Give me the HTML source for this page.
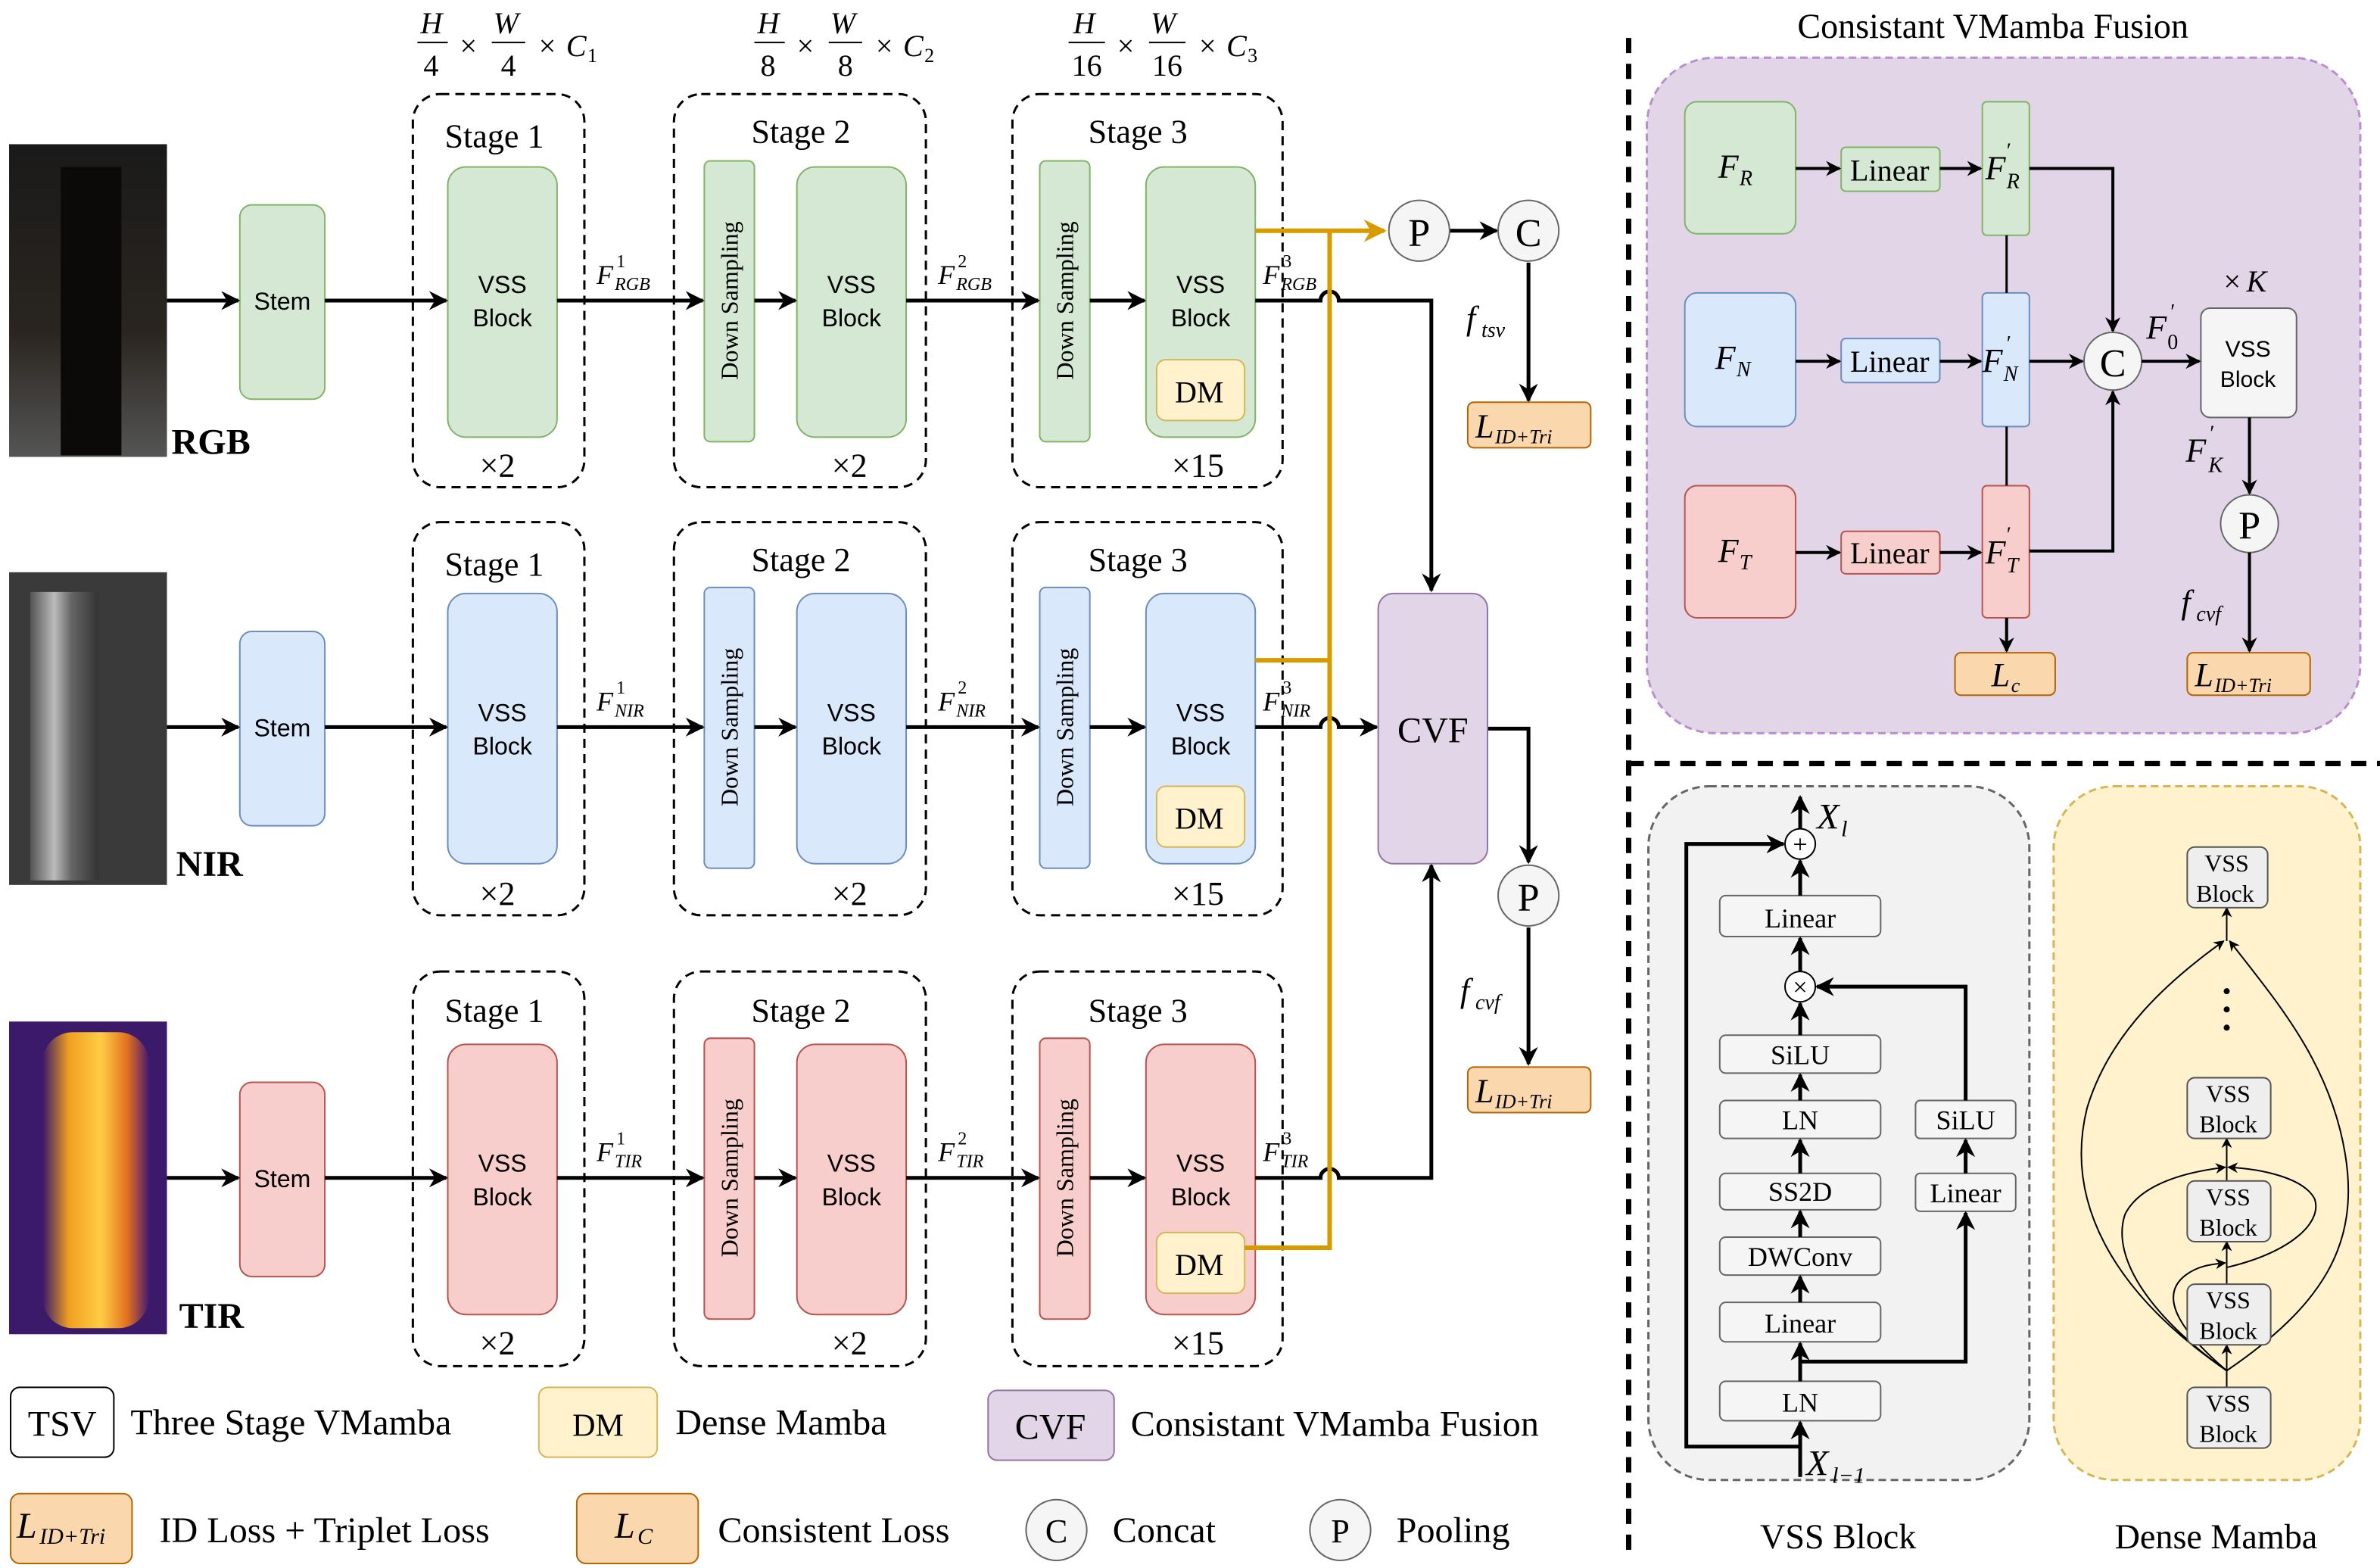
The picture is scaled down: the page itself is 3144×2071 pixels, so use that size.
<!DOCTYPE html>
<html><head><meta charset="utf-8"><style>
html,body{margin:0;padding:0;background:#fff;}
svg{display:block;}
svg text{font-family:"Liberation Serif","Times New Roman",serif;fill:#000;}
svg text.s{font-family:"Liberation Sans",Arial,sans-serif;}
.i{font-style:italic;}
</style></head><body>
<svg width="3144" height="2071" viewBox="0 0 1568 1033" preserveAspectRatio="none" xmlns="http://www.w3.org/2000/svg" font-family="Liberation Serif, serif">
<defs>
<marker id="a" viewBox="0 0 10 10" refX="9" refY="5" markerWidth="5" markerHeight="5" orient="auto"><path d="M0,0 L10,5 L0,10 L3,5z" fill="#000"/></marker>
<marker id="ao" viewBox="0 0 10 10" refX="9" refY="5" markerWidth="5" markerHeight="5" orient="auto"><path d="M0,0 L10,5 L0,10 L3,5z" fill="#d79b00"/></marker>
<marker id="as" viewBox="0 0 10 10" refX="9" refY="5" markerWidth="7" markerHeight="7" orient="auto"><path d="M0,0 L10,5 L0,10 L3,5z" fill="#000"/></marker>
<linearGradient id="rgbp" x1="0" y1="0" x2="0" y2="1"><stop offset="0" stop-color="#1a1a1a"/><stop offset="0.6" stop-color="#2a2520"/><stop offset="1" stop-color="#555"/></linearGradient>
<linearGradient id="nirp" x1="0" y1="0" x2="1" y2="0"><stop offset="0" stop-color="#555"/><stop offset="0.35" stop-color="#bbb"/><stop offset="0.6" stop-color="#666"/><stop offset="1" stop-color="#333"/></linearGradient>
<linearGradient id="tirp" x1="0" y1="0" x2="1" y2="0"><stop offset="0" stop-color="#3a1a6a"/><stop offset="0.25" stop-color="#f0a020"/><stop offset="0.55" stop-color="#ffcc44"/><stop offset="0.8" stop-color="#e07020"/><stop offset="1" stop-color="#4a1a70"/></linearGradient>
</defs>

<!-- photos -->
<rect x="6" y="95" width="104" height="206" fill="url(#rgbp)"/>
<rect x="40" y="110" width="40" height="190" fill="#0c0a08"/>
<rect x="6" y="377" width="104" height="206" fill="#3a3a3a"/>
<rect x="20" y="390" width="45" height="190" fill="url(#nirp)"/>
<rect x="6" y="673" width="104" height="206" fill="#3c1a6a"/>
<rect x="28" y="680" width="70" height="195" rx="20" fill="url(#tirp)"/>
<text x="113" y="299" font-size="24" font-weight="bold">RGB</text>
<text x="116" y="577" font-size="24" font-weight="bold">NIR</text>
<text x="118" y="875" font-size="24" font-weight="bold">TIR</text>

<!-- fraction headers -->
<g font-size="20">
<g transform="translate(275,0)"><text x="2" y="22" class="i">H</text><line x1="0" y1="28" x2="20" y2="28" stroke="#000"/><text x="4" y="50">4</text><text x="28" y="37">×</text><text x="50" y="22" class="i">W</text><line x1="49" y1="28" x2="71" y2="28" stroke="#000"/><text x="55" y="50">4</text><text x="80" y="37">×</text><text x="98" y="37" class="i">C</text><text x="112" y="41" font-size="13">1</text></g>
<g transform="translate(497,0)"><text x="2" y="22" class="i">H</text><line x1="0" y1="28" x2="20" y2="28" stroke="#000"/><text x="4" y="50">8</text><text x="28" y="37">×</text><text x="50" y="22" class="i">W</text><line x1="49" y1="28" x2="71" y2="28" stroke="#000"/><text x="55" y="50">8</text><text x="80" y="37">×</text><text x="98" y="37" class="i">C</text><text x="112" y="41" font-size="13">2</text></g>
<g transform="translate(704,0)"><text x="3" y="22" class="i">H</text><line x1="0" y1="28" x2="24" y2="28" stroke="#000"/><text x="2" y="50">16</text><text x="32" y="37">×</text><text x="54" y="22" class="i">W</text><line x1="53" y1="28" x2="77" y2="28" stroke="#000"/><text x="55" y="50">16</text><text x="86" y="37">×</text><text x="104" y="37" class="i">C</text><text x="118" y="41" font-size="13">3</text></g>
</g>

<g font-size="22">
<!-- RGB row -->
<g>
<rect x="158" y="135" width="56" height="128" rx="8" fill="#d5e8d4" stroke="#82b366"/>
<rect x="272" y="62" width="113" height="259" rx="18" fill="none" stroke="#000" stroke-width="1.5" stroke-dasharray="6,4"/>
<rect x="444" y="62" width="166" height="259" rx="18" fill="none" stroke="#000" stroke-width="1.5" stroke-dasharray="6,4"/>
<rect x="667" y="62" width="178" height="259" rx="18" fill="none" stroke="#000" stroke-width="1.5" stroke-dasharray="6,4"/>
<rect x="295" y="110" width="72" height="178" rx="12" fill="#d5e8d4" stroke="#82b366"/>
<rect x="464" y="106" width="33" height="185" rx="4" fill="#d5e8d4" stroke="#82b366"/>
<rect x="525" y="110" width="72" height="178" rx="12" fill="#d5e8d4" stroke="#82b366"/>
<rect x="685" y="106" width="33" height="185" rx="4" fill="#d5e8d4" stroke="#82b366"/>
<rect x="755" y="110" width="72" height="178" rx="12" fill="#d5e8d4" stroke="#82b366"/>
<rect x="762" y="237" width="58" height="40" rx="6" fill="#fff2cc" stroke="#d6b656"/>
<text x="293" y="97">Stage 1</text><text x="495" y="94">Stage 2</text><text x="717" y="94">Stage 3</text>
<text x="316" y="314">×2</text><text x="548" y="314">×2</text><text x="772" y="314">×15</text>
<text x="774" y="265" font-size="20">DM</text>
</g>
<!-- NIR row -->
<g>
<rect x="158" y="416" width="56" height="128" rx="8" fill="#dae8fc" stroke="#6c8ebf"/>
<rect x="272" y="344" width="113" height="259" rx="18" fill="none" stroke="#000" stroke-width="1.5" stroke-dasharray="6,4"/>
<rect x="444" y="344" width="166" height="259" rx="18" fill="none" stroke="#000" stroke-width="1.5" stroke-dasharray="6,4"/>
<rect x="667" y="344" width="178" height="259" rx="18" fill="none" stroke="#000" stroke-width="1.5" stroke-dasharray="6,4"/>
<rect x="295" y="391" width="72" height="178" rx="12" fill="#dae8fc" stroke="#6c8ebf"/>
<rect x="464" y="387" width="33" height="185" rx="4" fill="#dae8fc" stroke="#6c8ebf"/>
<rect x="525" y="391" width="72" height="178" rx="12" fill="#dae8fc" stroke="#6c8ebf"/>
<rect x="685" y="387" width="33" height="185" rx="4" fill="#dae8fc" stroke="#6c8ebf"/>
<rect x="755" y="391" width="72" height="178" rx="12" fill="#dae8fc" stroke="#6c8ebf"/>
<rect x="762" y="518" width="58" height="40" rx="6" fill="#fff2cc" stroke="#d6b656"/>
<text x="293" y="379">Stage 1</text><text x="495" y="376">Stage 2</text><text x="717" y="376">Stage 3</text>
<text x="316" y="596">×2</text><text x="548" y="596">×2</text><text x="772" y="596">×15</text>
<text x="774" y="546" font-size="20">DM</text>
</g>
<!-- TIR row -->
<g>
<rect x="158" y="713" width="56" height="128" rx="8" fill="#f8cecc" stroke="#b85450"/>
<rect x="272" y="640" width="113" height="260" rx="18" fill="none" stroke="#000" stroke-width="1.5" stroke-dasharray="6,4"/>
<rect x="444" y="640" width="166" height="260" rx="18" fill="none" stroke="#000" stroke-width="1.5" stroke-dasharray="6,4"/>
<rect x="667" y="640" width="178" height="260" rx="18" fill="none" stroke="#000" stroke-width="1.5" stroke-dasharray="6,4"/>
<rect x="295" y="688" width="72" height="178" rx="12" fill="#f8cecc" stroke="#b85450"/>
<rect x="464" y="684" width="33" height="185" rx="4" fill="#f8cecc" stroke="#b85450"/>
<rect x="525" y="688" width="72" height="178" rx="12" fill="#f8cecc" stroke="#b85450"/>
<rect x="685" y="684" width="33" height="185" rx="4" fill="#f8cecc" stroke="#b85450"/>
<rect x="755" y="688" width="72" height="178" rx="12" fill="#f8cecc" stroke="#b85450"/>
<rect x="762" y="812" width="58" height="40" rx="6" fill="#fff2cc" stroke="#d6b656"/>
<text x="293" y="673">Stage 1</text><text x="495" y="673">Stage 2</text><text x="717" y="673">Stage 3</text>
<text x="316" y="892">×2</text><text x="548" y="892">×2</text><text x="772" y="892">×15</text>
<text x="774" y="840" font-size="20">DM</text>
</g>
</g>

<!-- block labels -->
<g font-size="16" text-anchor="middle">
<text class="s" x="186" y="204">Stem</text><text class="s" x="186" y="485">Stem</text><text class="s" x="186" y="782">Stem</text>
<text class="s" x="331" y="193">VSS</text><text class="s" x="331" y="215">Block</text>
<text class="s" x="561" y="193">VSS</text><text class="s" x="561" y="215">Block</text>
<text class="s" x="791" y="193">VSS</text><text class="s" x="791" y="215">Block</text>
<text class="s" x="331" y="475">VSS</text><text class="s" x="331" y="497">Block</text>
<text class="s" x="561" y="475">VSS</text><text class="s" x="561" y="497">Block</text>
<text class="s" x="791" y="475">VSS</text><text class="s" x="791" y="497">Block</text>
<text class="s" x="331" y="772">VSS</text><text class="s" x="331" y="794">Block</text>
<text class="s" x="561" y="772">VSS</text><text class="s" x="561" y="794">Block</text>
<text class="s" x="791" y="772">VSS</text><text class="s" x="791" y="794">Block</text>
</g>
<g font-size="16" text-anchor="middle">
<text transform="translate(486,198) rotate(-90)">Down Sampling</text>
<text transform="translate(707,198) rotate(-90)">Down Sampling</text>
<text transform="translate(486,479) rotate(-90)">Down Sampling</text>
<text transform="translate(707,479) rotate(-90)">Down Sampling</text>
<text transform="translate(486,776) rotate(-90)">Down Sampling</text>
<text transform="translate(707,776) rotate(-90)">Down Sampling</text>
</g>

<!-- main arrows -->
<g stroke="#000" stroke-width="2.5" fill="none" marker-end="url(#a)">
<line x1="110" y1="198" x2="157" y2="198"/><line x1="214" y1="198" x2="294" y2="198"/><line x1="367" y1="198" x2="463" y2="198"/><line x1="497" y1="198" x2="524" y2="198"/><line x1="597" y1="198" x2="684" y2="198"/><line x1="718" y1="198" x2="754" y2="198"/>
<line x1="110" y1="479" x2="157" y2="479"/><line x1="214" y1="479" x2="294" y2="479"/><line x1="367" y1="479" x2="463" y2="479"/><line x1="497" y1="479" x2="524" y2="479"/><line x1="597" y1="479" x2="684" y2="479"/><line x1="718" y1="479" x2="754" y2="479"/>
<line x1="110" y1="776" x2="157" y2="776"/><line x1="214" y1="776" x2="294" y2="776"/><line x1="367" y1="776" x2="463" y2="776"/><line x1="497" y1="776" x2="524" y2="776"/><line x1="597" y1="776" x2="684" y2="776"/><line x1="718" y1="776" x2="754" y2="776"/>
<path d="M827,198 H870 a6,6 0 0 1 12,0 H943 V389"/>
<path d="M827,479 H870 a6,6 0 0 1 12,0 H907"/>
<path d="M827,776 H870 a6,6 0 0 1 12,0 H943 V570"/>
<path d="M980,480 H1007 V568"/>
<line x1="1007" y1="611" x2="1007" y2="701"/>
<line x1="955" y1="152" x2="986" y2="152"/>
<line x1="1007" y1="173" x2="1007" y2="264"/>
</g>
<!-- orange -->
<g stroke="#d79b00" stroke-width="3" fill="none">
<path d="M827,152 H912" marker-end="url(#ao)"/>
<path d="M876,152 V822 H820"/>
<path d="M827,435 H876"/>
</g>
<!-- F labels -->
<g font-size="18">
<text class="i" x="393" y="187">F</text><text class="i" x="405" y="191" font-size="12">RGB</text><text x="406" y="176" font-size="12">1</text>
<text class="i" x="618" y="187">F</text><text class="i" x="630" y="191" font-size="12">RGB</text><text x="631" y="176" font-size="12">2</text>
<text class="i" x="832" y="187">F</text><text class="i" x="844" y="191" font-size="12">RGB</text><text x="845" y="176" font-size="12">3</text>
<text class="i" x="393" y="468">F</text><text class="i" x="405" y="472" font-size="12">NIR</text><text x="406" y="457" font-size="12">1</text>
<text class="i" x="618" y="468">F</text><text class="i" x="630" y="472" font-size="12">NIR</text><text x="631" y="457" font-size="12">2</text>
<text class="i" x="832" y="468">F</text><text class="i" x="844" y="472" font-size="12">NIR</text><text x="845" y="457" font-size="12">3</text>
<text class="i" x="393" y="765">F</text><text class="i" x="405" y="769" font-size="12">TIR</text><text x="406" y="754" font-size="12">1</text>
<text class="i" x="618" y="765">F</text><text class="i" x="630" y="769" font-size="12">TIR</text><text x="631" y="754" font-size="12">2</text>
<text class="i" x="832" y="765">F</text><text class="i" x="844" y="769" font-size="12">TIR</text><text x="845" y="754" font-size="12">3</text>
<text class="i" x="966" y="217" font-size="22">f</text><text class="i" x="976" y="222" font-size="14">tsv</text>
<text class="i" x="962" y="660" font-size="22">f</text><text class="i" x="972" y="665" font-size="14">cvf</text>
</g>
<!-- CVF, P, C, L -->
<rect x="908" y="391" width="72" height="178" rx="10" fill="#e1d5e7" stroke="#9673a6"/>
<text x="944" y="489" font-size="24" text-anchor="middle">CVF</text>
<circle cx="935" cy="152" r="20" fill="#f5f5f5" stroke="#666"/><text x="935" y="162" font-size="26" text-anchor="middle">P</text>
<circle cx="1007" cy="152" r="20" fill="#f5f5f5" stroke="#666"/><text x="1007" y="162" font-size="26" text-anchor="middle">C</text>
<circle cx="1007" cy="590" r="20" fill="#f5f5f5" stroke="#666"/><text x="1007" y="600" font-size="26" text-anchor="middle">P</text>
<rect x="967" y="265" width="81" height="30" rx="4" fill="#fad7ac" stroke="#b46504"/>
<text x="972" y="288" font-size="22" class="i">L</text><text x="985" y="292" font-size="13" class="i">ID+Tri</text>
<rect x="967" y="703" width="81" height="30" rx="4" fill="#fad7ac" stroke="#b46504"/>
<text x="972" y="726" font-size="22" class="i">L</text><text x="985" y="730" font-size="13" class="i">ID+Tri</text>

<!-- legend -->
<g font-size="24">
<rect x="7" y="914" width="68" height="46" rx="6" fill="#fff" stroke="#000"/><text x="41" y="946" text-anchor="middle">TSV</text>
<text x="86" y="945">Three Stage VMamba</text>
<rect x="355" y="914" width="78" height="46" rx="6" fill="#fff2cc" stroke="#d6b656"/><text x="394" y="946" text-anchor="middle" font-size="21">DM</text>
<text x="445" y="945">Dense Mamba</text>
<rect x="651" y="916" width="83" height="46" rx="6" fill="#e1d5e7" stroke="#9673a6"/><text x="692" y="948" text-anchor="middle">CVF</text>
<text x="745" y="946">Consistant VMamba Fusion</text>
<rect x="7" y="984" width="80" height="46" rx="6" fill="#fad7ac" stroke="#b46504"/>
<text x="11" y="1013" class="i">L</text><text x="26" y="1017" class="i" font-size="15">ID+Tri</text>
<text x="105" y="1016">ID Loss + Triplet Loss</text>
<rect x="380" y="984" width="80" height="46" rx="6" fill="#fad7ac" stroke="#b46504"/>
<text x="405" y="1013" class="i">L</text><text x="420" y="1017" class="i" font-size="15">C</text>
<text x="473" y="1016">Consistent Loss</text>
<circle cx="696" cy="1008" r="20" fill="#f5f5f5" stroke="#666"/><text x="696" y="1016" text-anchor="middle" font-size="22">C</text>
<text x="733" y="1016">Concat</text>
<circle cx="883" cy="1008" r="20" fill="#f5f5f5" stroke="#666"/><text x="883" y="1016" text-anchor="middle" font-size="22">P</text>
<text x="920" y="1016">Pooling</text>
</g>

<!-- dividers -->
<line x1="1073" y1="25" x2="1073" y2="1027" stroke="#000" stroke-width="3.5" stroke-dasharray="10,7"/>
<line x1="1073" y1="503" x2="1568" y2="503" stroke="#000" stroke-width="3.5" stroke-dasharray="10,7"/>

<!-- CVF detail -->
<text x="1313" y="25" font-size="23" text-anchor="middle">Consistant VMamba Fusion</text>
<rect x="1085" y="38" width="470" height="445" rx="45" fill="#e1d5e7" stroke="#b98fd0" stroke-width="1.5" stroke-dasharray="5,3"/>
<rect x="1110" y="67" width="73" height="87" rx="8" fill="#d5e8d4" stroke="#82b366"/>
<rect x="1110" y="193" width="73" height="88" rx="8" fill="#dae8fc" stroke="#6c8ebf"/>
<rect x="1110" y="320" width="73" height="87" rx="8" fill="#f8cecc" stroke="#b85450"/>
<rect x="1213" y="97" width="65" height="29" rx="3" fill="#d5e8d4" stroke="#82b366"/>
<rect x="1213" y="223" width="65" height="29" rx="3" fill="#dae8fc" stroke="#6c8ebf"/>
<rect x="1213" y="350" width="65" height="28" rx="3" fill="#f8cecc" stroke="#b85450"/>
<rect x="1306" y="67" width="31" height="88" rx="3" fill="#d5e8d4" stroke="#82b366"/>
<rect x="1306" y="193" width="31" height="88" rx="3" fill="#dae8fc" stroke="#6c8ebf"/>
<rect x="1306" y="320" width="31" height="87" rx="3" fill="#f8cecc" stroke="#b85450"/>
<rect x="1450" y="203" width="63" height="72" rx="6" fill="#f5f5f5" stroke="#666"/>
<rect x="1288" y="430" width="66" height="28" rx="4" fill="#fad7ac" stroke="#b46504"/>
<rect x="1441" y="430" width="81" height="28" rx="4" fill="#fad7ac" stroke="#b46504"/>
<g font-size="20" text-anchor="middle"><text x="1245" y="119">Linear</text><text x="1245" y="245">Linear</text><text x="1245" y="371">Linear</text></g>
<g font-size="15" text-anchor="middle"><text class="s" x="1481" y="235">VSS</text><text class="s" x="1481" y="255">Block</text></g>
<g font-size="22">
<text class="i" x="1132" y="117">F</text><text class="i" x="1146" y="122" font-size="14">R</text>
<text class="i" x="1130" y="243">F</text><text class="i" x="1144" y="248" font-size="14">N</text>
<text class="i" x="1132" y="370">F</text><text class="i" x="1146" y="375" font-size="14">T</text>
<text class="i" x="1308" y="118">F</text><text class="i" x="1322" y="124" font-size="14">R</text><text x="1322" y="104" font-size="14">′</text>
<text class="i" x="1306" y="245">F</text><text class="i" x="1320" y="251" font-size="14">N</text><text x="1322" y="231" font-size="14">′</text>
<text class="i" x="1308" y="371">F</text><text class="i" x="1322" y="377" font-size="14">T</text><text x="1322" y="357" font-size="14">′</text>
<text class="i" x="1414" y="223">F</text><text x="1428" y="230" font-size="14">0</text><text x="1430" y="210" font-size="14">′</text>
<text class="i" x="1440" y="304">F</text><text class="i" x="1455" y="311" font-size="14">K</text><text x="1456" y="290" font-size="14">′</text>
<text class="i" x="1437" y="404">f</text><text class="i" x="1447" y="409" font-size="14">cvf</text>
<text x="1465" y="192" font-size="20">×</text><text class="i" x="1480" y="192" font-size="20">K</text>
<text class="i" x="1312" y="452">L</text><text class="i" x="1325" y="456" font-size="13">c</text>
<text class="i" x="1446" y="452">L</text><text class="i" x="1459" y="456" font-size="13">ID+Tri</text>
</g>
<circle cx="1392" cy="238" r="19" fill="#f5f5f5" stroke="#666"/><text x="1392" y="248" font-size="26" text-anchor="middle">C</text>
<circle cx="1482" cy="345" r="19" fill="#f5f5f5" stroke="#666"/><text x="1482" y="355" font-size="26" text-anchor="middle">P</text>
<g stroke="#000" stroke-width="2" fill="none" marker-end="url(#a)">
<line x1="1183" y1="111" x2="1212" y2="111"/><line x1="1278" y1="111" x2="1305" y2="111"/>
<line x1="1183" y1="238" x2="1212" y2="238"/><line x1="1278" y1="238" x2="1305" y2="238"/>
<line x1="1183" y1="364" x2="1212" y2="364"/><line x1="1278" y1="364" x2="1305" y2="364"/>
<path d="M1337,111 H1392 V218"/><line x1="1337" y1="238" x2="1372" y2="238"/><path d="M1337,363 H1392 V258"/>
<line x1="1411" y1="238" x2="1449" y2="238"/>
<line x1="1482" y1="275" x2="1482" y2="325"/><line x1="1482" y1="364" x2="1482" y2="429"/>
<line x1="1322" y1="407" x2="1322" y2="429"/>
</g>
<g stroke="#000" stroke-width="1.5"><line x1="1322" y1="155" x2="1322" y2="193"/><line x1="1322" y1="281" x2="1322" y2="320"/></g>

<!-- VSS Block detail -->
<rect x="1086" y="518" width="251" height="457" rx="40" fill="#f2f2f2" stroke="#666" stroke-width="1.5" stroke-dasharray="5,3"/>
<g fill="#f5f5f5" stroke="#666">
<rect x="1133" y="590" width="106" height="27" rx="4"/><rect x="1133" y="682" width="106" height="25" rx="4"/><rect x="1133" y="725" width="106" height="25" rx="4"/><rect x="1133" y="773" width="106" height="24" rx="4"/><rect x="1133" y="815" width="106" height="25" rx="4"/><rect x="1133" y="858" width="106" height="26" rx="4"/><rect x="1133" y="910" width="106" height="26" rx="4"/>
<rect x="1262" y="725" width="66" height="25" rx="3"/><rect x="1262" y="773" width="66" height="25" rx="3"/>
</g>
<g font-size="18" text-anchor="middle">
<text x="1186" y="611">Linear</text><text x="1186" y="701">SiLU</text><text x="1186" y="744">LN</text><text x="1186" y="791">SS2D</text><text x="1186" y="834">DWConv</text><text x="1186" y="878">Linear</text><text x="1186" y="930">LN</text>
<text x="1295" y="744">SiLU</text><text x="1295" y="792">Linear</text>
</g>
<g stroke="#000" stroke-width="2.5" fill="none" marker-end="url(#a)">
<line x1="1186" y1="973" x2="1186" y2="937"/><line x1="1186" y1="910" x2="1186" y2="885"/><line x1="1186" y1="858" x2="1186" y2="841"/><line x1="1186" y1="815" x2="1186" y2="798"/><line x1="1186" y1="773" x2="1186" y2="751"/><line x1="1186" y1="725" x2="1186" y2="708"/><line x1="1186" y1="682" x2="1186" y2="661"/><line x1="1186" y1="640" x2="1186" y2="618"/><line x1="1186" y1="590" x2="1186" y2="567"/><line x1="1186" y1="546" x2="1186" y2="525"/>
<path d="M1186,953 H1111 V556 H1175"/>
<path d="M1186,897 H1295 V799"/><line x1="1295" y1="773" x2="1295" y2="751"/><path d="M1295,725 V650 H1197"/>
</g>
<circle cx="1186" cy="556" r="10" fill="#fff" stroke="#000"/><text x="1186" y="562" font-size="17" text-anchor="middle">+</text>
<circle cx="1186" cy="650" r="10" fill="#fff" stroke="#000"/><text x="1186" y="656" font-size="17" text-anchor="middle">×</text>
<text x="1197" y="546" font-size="24" class="i">X</text><text x="1213" y="551" font-size="15" class="i">l</text>
<text x="1190" y="972" font-size="24" class="i">X</text><text x="1207" y="977" font-size="15" class="i">l−1</text>
<text x="1211" y="1020" font-size="23" text-anchor="middle">VSS Block</text>

<!-- Dense Mamba -->
<rect x="1353" y="518" width="202" height="457" rx="40" fill="#fff2cc" stroke="#d6b656" stroke-width="1.5" stroke-dasharray="5,3"/>
<g fill="none" stroke="#000" stroke-width="1">
<line x1="1467" y1="914" x2="1467" y2="886" marker-end="url(#as)"/>
<line x1="1467" y1="846" x2="1467" y2="818" marker-end="url(#as)"/>
<line x1="1467" y1="778" x2="1467" y2="750" marker-end="url(#as)"/>
<line x1="1467" y1="620" x2="1467" y2="598" marker-end="url(#as)"/>
<path d="M1467,903 C1440,880 1420,855 1440,840 C1448,834 1456,833 1466,832" marker-end="url(#as)"/>
<path d="M1467,903 C1420,870 1390,830 1400,800 C1410,780 1440,772 1466,769" marker-end="url(#as)"/>
<path d="M1467,835 C1510,825 1530,805 1525,790 C1518,776 1490,770 1468,769" marker-end="url(#as)"/>
<path d="M1467,903 C1390,850 1360,790 1375,730 C1390,680 1430,645 1465,620" marker-end="url(#as)"/>
<path d="M1467,903 C1530,860 1555,820 1545,760 C1535,700 1500,660 1469,620" marker-end="url(#as)"/>
</g>
<g fill="#000"><circle cx="1467" cy="653" r="2"/><circle cx="1467" cy="665" r="2"/><circle cx="1467" cy="677" r="2"/></g>
<g fill="#eeeeee" stroke="#555">
<rect x="1441" y="558" width="53" height="40" rx="5"/><rect x="1441" y="710" width="55" height="40" rx="5"/><rect x="1441" y="778" width="55" height="40" rx="5"/><rect x="1441" y="846" width="55" height="40" rx="5"/><rect x="1441" y="914" width="55" height="40" rx="5"/>
</g>
<g font-size="16" text-anchor="middle">
<text x="1467" y="574">VSS</text><text x="1466" y="594">Block</text>
<text x="1468" y="726">VSS</text><text x="1468" y="746">Block</text>
<text x="1468" y="794">VSS</text><text x="1468" y="814">Block</text>
<text x="1468" y="862">VSS</text><text x="1468" y="882">Block</text>
<text x="1468" y="930">VSS</text><text x="1468" y="950">Block</text>
</g>
<text x="1460" y="1020" font-size="23" text-anchor="middle">Dense Mamba</text>
</svg>
</body></html>
